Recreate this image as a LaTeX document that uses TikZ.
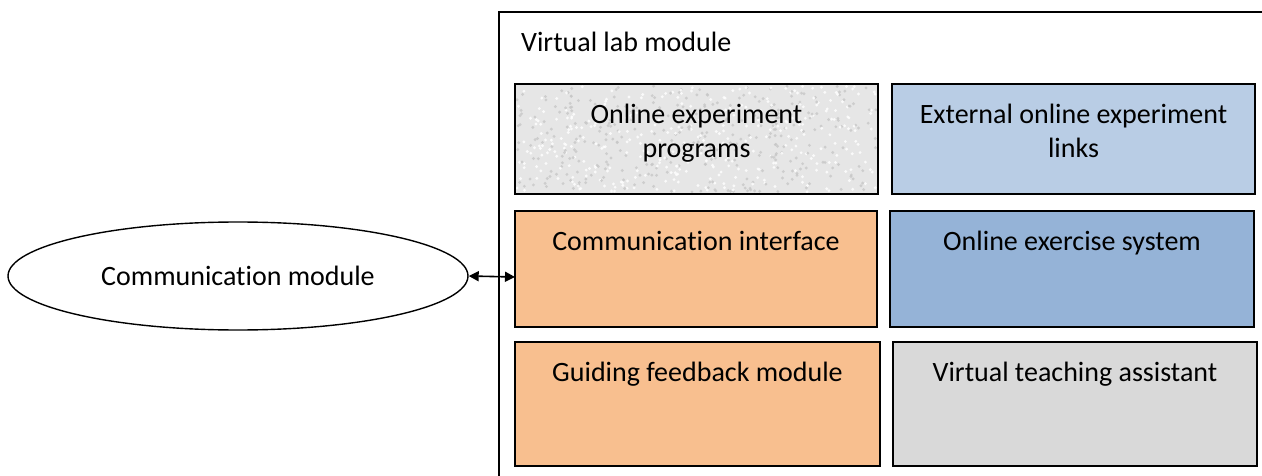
\documentclass[tikz,border=0pt]{standalone}
\usepackage{fontspec}
\setmainfont{Carlito}[Ligatures=NoCommon]
\usetikzlibrary{shapes.geometric,arrows.meta}
\definecolor{orangefill}{HTML}{F8BF8F}
\definecolor{lightblue}{HTML}{B9CDE5}
\definecolor{midblue}{HTML}{95B3D7}
\definecolor{greyfill}{HTML}{D9D9D9}
\definecolor{granite}{HTML}{E6E6E6}
\tikzset{
  box/.style={draw=black, line width=1.6pt},
  lbl/.style={anchor=north, align=center, font=\fontsize{28}{34}\selectfont, inner sep=0pt},
  link/.style={line width=1.6pt, {Triangle[length=10pt,width=10pt]}-{Triangle[length=10pt,width=10pt]}}
}
\begin{document}
\begin{tikzpicture}[x=1pt,y=-1pt]
\useasboundingbox (0,0) rectangle (1262,476);
\clip (0,0) rectangle (1262,476);
% outer frame
\draw[line width=1.6pt] (499,490) -- (499,12) -- (1280,12);
\node[anchor=base west, font=\fontsize{28}{34}\selectfont, inner sep=0pt] (title) at (521,52) {Virtual lab module};
% row 1
\fill[granite] (515,84) rectangle (878,194);
\pgfmathsetseed{7}
\foreach \i in {1,...,700}{
  \pgfmathsetmacro{\px}{517+359*rnd}
  \pgfmathsetmacro{\py}{86+106*rnd}
  \pgfmathsetmacro{\sh}{ifthenelse(rnd>0.5,22,0)}
  \fill[black!\sh!white, opacity=0.8] (\px,\py) circle (1.6);
}
\draw[box] (515,84) rectangle (878,194);
\node[lbl] (t1) at (696.5,104) {Online experiment\\programs};
\draw[box, fill=lightblue] (892,84) rectangle (1255,194);
\node[lbl] (t2) at (1073.5,104) {External online experiment\\links};
% row 2
\draw[box, fill=orangefill] (515,211) rectangle (877,327);
\node[lbl] (t3) at (696,231) {Communication interface};
\coordinate (ci) at (515,277);
\draw[box, fill=midblue] (890,211) rectangle (1254,327);
\node[lbl] (t4) at (1072,231) {Online exercise system};
% row 3
\draw[box, fill=orangefill] (515,342) rectangle (880,466);
\node[lbl] (t5) at (697.5,362) {Guiding feedback module};
\draw[box, fill=greyfill] (893,342) rectangle (1257,466);
\node[lbl] (t6) at (1075,362) {Virtual teaching assistant};
% ellipse
\node[draw, line width=1.4pt, ellipse, minimum width=460pt, minimum height=108pt, inner sep=0pt,
      font=\fontsize{28}{34}\selectfont] (cm) at (238,276) {Communication module};
\draw[link] (cm.east) -- (ci);
\end{tikzpicture}
\end{document}
